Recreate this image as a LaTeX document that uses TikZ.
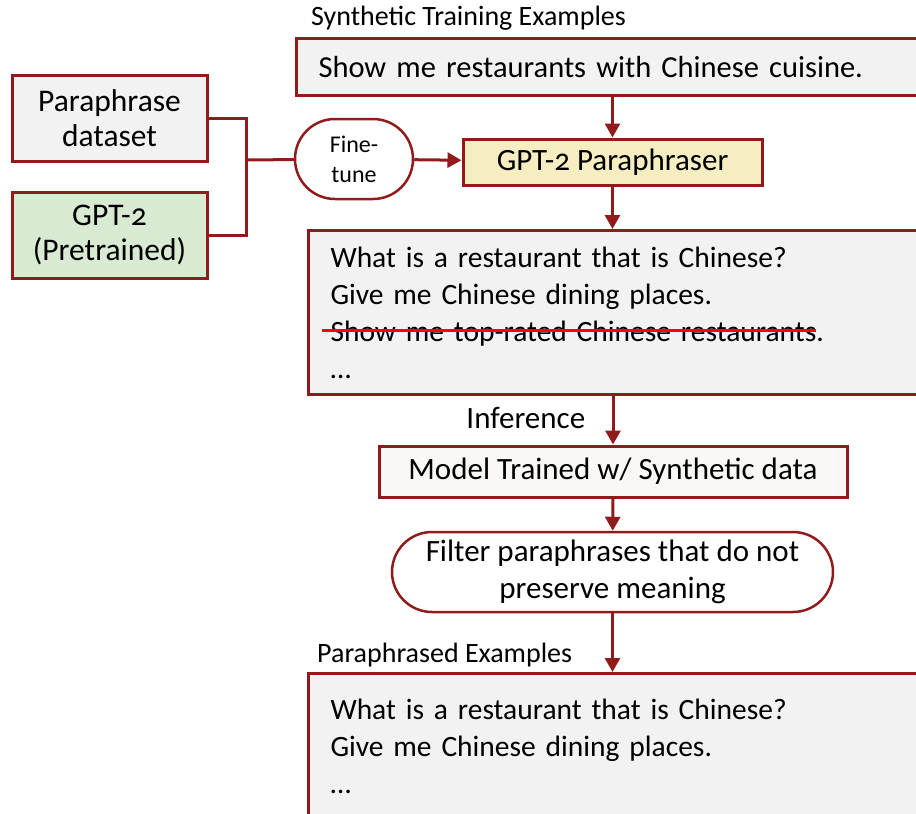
\documentclass[tikz,border=0pt]{standalone}
\usepackage{fontspec}
\setmainfont{Carlito}[Numbers=OldStyle]
\usetikzlibrary{arrows.meta}
\usetikzlibrary{shapes.misc}

\definecolor{linered}{RGB}{145,27,27}
\definecolor{fillgray}{RGB}{242,242,242}
\definecolor{fillgreen}{RGB}{217,234,211}
\definecolor{fillyellow}{RGB}{246,237,192}
\definecolor{fillwhite}{RGB}{250,248,245}

\newsavebox\strikebox
\newcommand\redstrike[1]{\sbox\strikebox{#1}\usebox\strikebox\llap{\textcolor{red}{\rule[0.62ex]{\dimexpr\wd\strikebox+9pt\relax}{3pt}}}}

\begin{document}
\begin{tikzpicture} [x=1pt, y=-1pt,
  every node/.style={font=\fontsize{31}{37}\selectfont},
  box/.style={draw=linered, line width=3pt, fill=fillgray, inner sep=0pt},
  listbox/.style={box, anchor=north west, text width=600, inner xsep=22, align=left, font=\fontsize{29.5}{37}\selectfont},
  pill/.style={rounded rectangle, draw=linered, line width=2.5pt, fill=white, inner sep=0pt, align=center},
  wire/.style={draw=linered, line width=3pt},
  flow/.style={wire, -{Triangle[length=14pt, width=15pt]}},
  caption/.style={anchor=west, inner sep=0pt, font=\fontsize{28}{32}\selectfont}]
\path[use as bounding box, clip] (0,0) rectangle (916,814);

% left column
\node[box, minimum width=195, minimum height=86, align=center, font=\fontsize{31.5}{35}\selectfont] (para) at (109.5,118) {Paraphrase\\dataset};
\node[box, fill=fillgreen, minimum width=195, minimum height=86, align=center, font=\fontsize{31.5}{35}\selectfont] (gpt) at (109.5,235) {GPT-2\\(Pretrained)};
\coordinate (joint) at (246,160);
\node[pill, minimum width=118, minimum height=80, font=\fontsize{24}{30}\selectfont] (tune) at (354,159) {Fine-\\tune};

% main column
\node[caption] (synlabel) at (311,18) {Synthetic Training Examples};
\node[box, anchor=north west, minimum height=57, text width=620, inner xsep=22, align=left, font=\fontsize{30.5}{37}\selectfont] (syn) at (295,37) {Show me restaurants with Chinese cuisine.};
\node[box, fill=fillyellow, minimum width=299, minimum height=46] (gen) at (612.5,162) {GPT-2 Paraphraser};
\node[listbox, minimum height=164] (cand) at (307,229)
  {What is a restaurant that is Chinese?\\Give me Chinese dining places.\\\redstrike{Show me top-rated Chinese restaurants}.\\\dots};
\node[box, fill=fillwhite, minimum width=468, minimum height=51] (model) at (613,471.5) {Model Trained w/ Synthetic data};
\node[pill, minimum width=441, minimum height=80] (filter) at (612.5,572) {Filter paraphrases that do not\\preserve meaning};
\node[caption] (paralabel) at (317,655) {Paraphrased Examples};
\node[listbox, minimum height=194] (final) at (307,672)
  {What is a restaurant that is Chinese?\\Give me Chinese dining places.\\\dots\\\strut};

% connectors
\draw[wire] (para) -| (joint);
\draw[wire] (gpt) -| (joint);
\draw[wire] (joint) -- (tune);
\draw[flow] (tune) -- (gen);
\draw[flow] (syn.south -| gen) -- (gen);
\draw[flow] (gen) -- (gen |- cand.north);
\draw[flow] (cand.south -| model) -- (model) node[pos=.45, left=23pt] (inflabel) {Inference};
\draw[flow] (model) -- (filter);
\draw[flow] (filter) -- (filter |- final.north);

\end{tikzpicture}
\end{document}
